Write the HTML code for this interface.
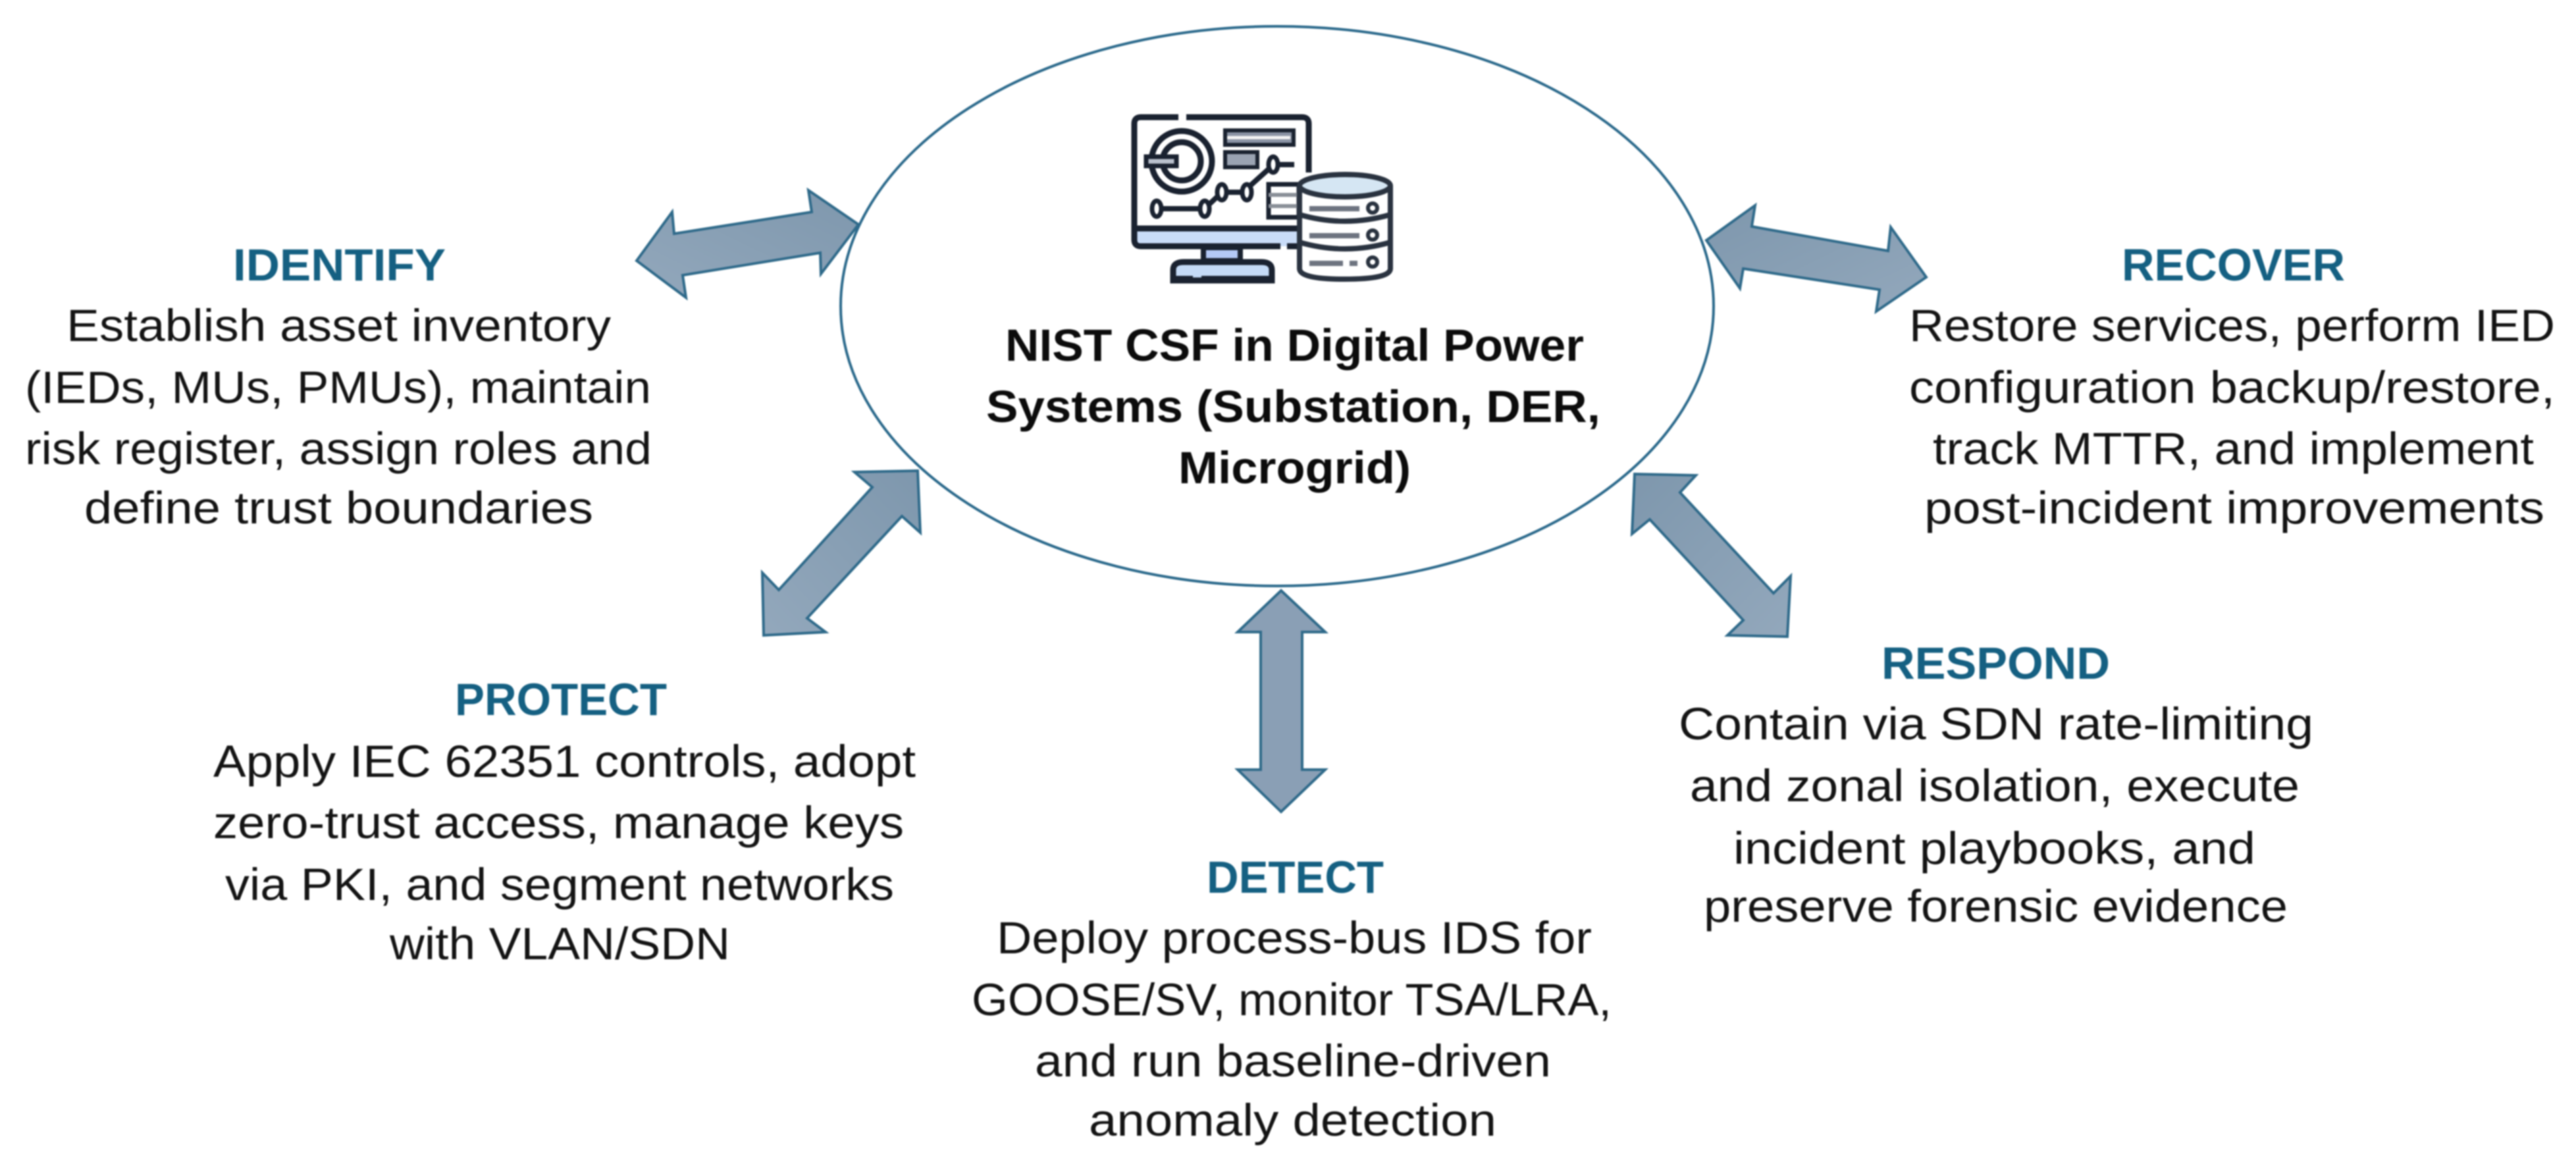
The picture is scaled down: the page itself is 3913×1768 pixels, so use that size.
<!DOCTYPE html>
<html lang="en"><head><meta charset="utf-8"><title>NIST CSF in Digital Power Systems</title>
<style>
html,body{margin:0;padding:0;background:#fff;width:3913px;height:1768px;overflow:hidden}
svg{display:block;filter:blur(1px)}
text{font-family:"Liberation Sans",sans-serif;font-size:69px;fill:#141414}
.h{font-weight:700;fill:#156082}
.c{font-weight:700;fill:#0c0c0c}
.a{stroke:#2f6a8a;stroke-width:4;stroke-linejoin:miter}
</style></head><body>
<svg width="3913" height="1768" viewBox="0 0 3913 1768" xmlns="http://www.w3.org/2000/svg">
<defs>
<linearGradient id="g" x1="0" y1="0" x2="1" y2="1"><stop offset="0" stop-color="#7e97ad"/><stop offset="1" stop-color="#93a8bc"/></linearGradient>
<linearGradient id="g2" x1="1" y1="0" x2="0" y2="1"><stop offset="0" stop-color="#7e97ad"/><stop offset="1" stop-color="#93a8bc"/></linearGradient>
</defs>
<rect width="3913" height="1768" fill="#fff"/>
<ellipse cx="1940" cy="465" rx="663" ry="425" fill="#fff" stroke="#2c6a8c" stroke-width="4"/>

<!-- arrows -->
<polygon class="a" fill="url(#g2)" points="967,396 1021,322 1024,355 1233,322 1228,289 1304,341 1247,416 1246,384 1037,418 1042,452"/>
<polygon class="a" fill="url(#g2)" points="1394,715 1298,717 1325,740 1183,896 1158,870 1160,965 1254,960 1226,939 1370,784 1398,809"/>
<polygon class="a" fill="url(#g)" points="2592,365 2666,312 2661,344 2868,381 2872,345 2926,421 2850,473 2855,440 2648,408 2643,438"/>
<polygon class="a" fill="url(#g)" points="2483,720 2576,722 2552,748 2694,901 2720,875 2715,967 2624,965 2648,942 2506,789 2479,811"/>
<polygon class="a" fill="#8a9fb5" points="1946,897 2013,960 1978,960 1978,1169 2013,1169 1946,1233 1880,1169 1915,1169 1915,960 1880,960"/>

<!-- icon -->
<g fill="none" stroke="#1a2230" stroke-width="9">
<rect x="1879" y="348" width="100" height="26" fill="#c9dcf8" stroke="none"/>
<rect x="1725" y="348" width="246" height="26" fill="#c9dcf8" stroke="none"/>
<path d="M1790,178H1733Q1723,178 1723,188V364Q1723,374 1733,374H1945M1955,374H1975M1802,178H1978Q1988,178 1988,188V262"/>
<path d="M1723,347H1972"/>
<circle cx="1795" cy="245" r="46"/>
<circle cx="1795" cy="245" r="29"/>
<rect x="1741" y="238" width="46" height="14" fill="#b9c0cc" stroke-width="7"/>
<rect x="1861" y="198" width="104" height="22" fill="#8a93a4" stroke-width="6"/>
<path d="M1864,209H1960" stroke="#f2f2f2" stroke-width="5"/>
<rect x="1861" y="231" width="49" height="23" fill="#9aa3b2" stroke-width="6"/>
<path d="M1762,317H1825M1835,312L1852,296M1861,292H1889M1898,283L1928,256M1941,250H1966" stroke-width="8"/>
<g stroke-width="7" fill="#fff"><ellipse cx="1757" cy="317" rx="7" ry="12"/><ellipse cx="1830" cy="317" rx="7" ry="12"/><ellipse cx="1856" cy="292" rx="7" ry="12"/><ellipse cx="1894" cy="292" rx="7" ry="12"/><ellipse cx="1934" cy="250" rx="7" ry="12"/></g>
<rect x="1927" y="280" width="46" height="50" stroke-width="7" fill="#fff"/>
<path d="M1927,296H1971M1927,313H1971" stroke="#8a8f98" stroke-width="6"/>
<rect x="1828" y="376" width="56" height="20" fill="#b3c8f5" stroke-width="8"/>
<path d="M1782,426V410Q1782,398 1798,398H1916Q1932,398 1932,410V426Z" fill="#c4daf6"/>
<path d="M1785,424H1812M1825,424H1930" stroke-width="10"/>
<path d="M1974,282V408Q1974,424 2042,424Q2112,424 2112,408V282" fill="#fff" stroke="#2a3340" stroke-width="8"/>
<ellipse cx="2043" cy="282" rx="69" ry="17" fill="#d5e6f3" stroke="#2a3340" stroke-width="8"/>
<path d="M1974,326Q2043,346 2112,326M1974,368Q2043,388 2112,368" stroke="#2a3340" stroke-width="8"/>
<path d="M1989,317H2065M1989,358H2065M1989,400H2040M2050,400H2062" stroke="#6e7480" stroke-width="8"/>
<circle cx="2085" cy="316" r="7" stroke="#2a3340" stroke-width="6"/>
<circle cx="2085" cy="357" r="7" stroke="#2a3340" stroke-width="6"/>
<circle cx="2085" cy="398" r="7" stroke="#2a3340" stroke-width="6"/>
</g>

<!-- centre -->
<text class="c" x="1527" y="548" textLength="879" lengthAdjust="spacingAndGlyphs">NIST CSF in Digital Power</text>
<text class="c" x="1498" y="641" textLength="933" lengthAdjust="spacingAndGlyphs">Systems (Substation, DER,</text>
<text class="c" x="1790" y="734" textLength="353" lengthAdjust="spacingAndGlyphs">Microgrid)</text>

<!-- identify -->
<text class="h" x="354" y="426" textLength="323" lengthAdjust="spacingAndGlyphs">IDENTIFY</text>
<text x="101" y="518" textLength="827" lengthAdjust="spacingAndGlyphs">Establish asset inventory</text>
<text x="38" y="612" textLength="951" lengthAdjust="spacingAndGlyphs">(IEDs, MUs, PMUs), maintain</text>
<text x="38" y="705" textLength="952" lengthAdjust="spacingAndGlyphs">risk register, assign roles and</text>
<text x="128" y="795" textLength="773" lengthAdjust="spacingAndGlyphs">define trust boundaries</text>

<!-- recover -->
<text class="h" x="3223" y="426" textLength="339" lengthAdjust="spacingAndGlyphs">RECOVER</text>
<text x="2900" y="518" textLength="981" lengthAdjust="spacingAndGlyphs">Restore services, perform IED</text>
<text x="2900" y="612" textLength="981" lengthAdjust="spacingAndGlyphs">configuration backup/restore,</text>
<text x="2936" y="705" textLength="913" lengthAdjust="spacingAndGlyphs">track MTTR, and implement</text>
<text x="2923" y="795" textLength="942" lengthAdjust="spacingAndGlyphs">post-incident improvements</text>

<!-- protect -->
<text class="h" x="691" y="1086" textLength="322" lengthAdjust="spacingAndGlyphs">PROTECT</text>
<text x="324" y="1180" textLength="1067" lengthAdjust="spacingAndGlyphs">Apply IEC 62351 controls, adopt</text>
<text x="324" y="1273" textLength="1049" lengthAdjust="spacingAndGlyphs">zero-trust access, manage keys</text>
<text x="342" y="1367" textLength="1016" lengthAdjust="spacingAndGlyphs">via PKI, and segment networks</text>
<text x="592" y="1457" textLength="517" lengthAdjust="spacingAndGlyphs">with VLAN/SDN</text>

<!-- detect -->
<text class="h" x="1833" y="1356" textLength="269" lengthAdjust="spacingAndGlyphs">DETECT</text>
<text x="1514" y="1448" textLength="904" lengthAdjust="spacingAndGlyphs">Deploy process-bus IDS for</text>
<text x="1476" y="1542" textLength="972" lengthAdjust="spacingAndGlyphs">GOOSE/SV, monitor TSA/LRA,</text>
<text x="1572" y="1635" textLength="784" lengthAdjust="spacingAndGlyphs">and run baseline-driven</text>
<text x="1654" y="1725" textLength="619" lengthAdjust="spacingAndGlyphs">anomaly detection</text>

<!-- respond -->
<text class="h" x="2858" y="1031" textLength="347" lengthAdjust="spacingAndGlyphs">RESPOND</text>
<text x="2550" y="1123" textLength="964" lengthAdjust="spacingAndGlyphs">Contain via SDN rate-limiting</text>
<text x="2567" y="1217" textLength="926" lengthAdjust="spacingAndGlyphs">and zonal isolation, execute</text>
<text x="2633" y="1312" textLength="793" lengthAdjust="spacingAndGlyphs">incident playbooks, and</text>
<text x="2588" y="1400" textLength="887" lengthAdjust="spacingAndGlyphs">preserve forensic evidence</text>
</svg>
</body></html>
